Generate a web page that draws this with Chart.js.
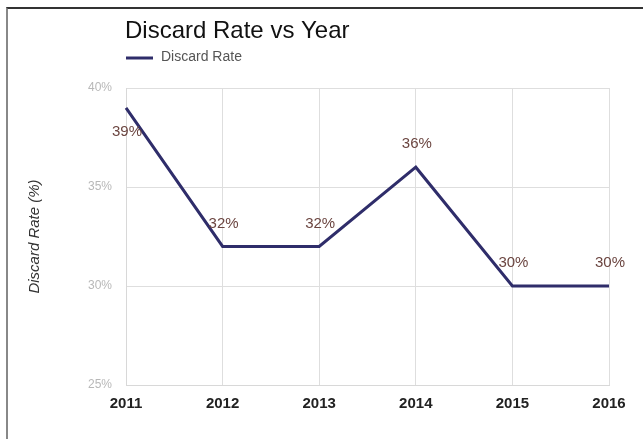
<!DOCTYPE html>
<html><head><meta charset="utf-8">
<script src="https://cdn.jsdelivr.net/npm/chart.js@4/dist/chart.umd.min.js"></script>
<style>
html,body{margin:0;padding:0;background:#fff;}
#wrap{position:relative;width:643px;height:439px;overflow:hidden;}
#frame{position:absolute;left:6px;top:7px;width:660px;height:460px;border-left:2px solid #888;border-top:2px solid #333;box-sizing:border-box;pointer-events:none;}
canvas{position:absolute;left:0;top:0;}
</style></head>
<body><div id="wrap"><canvas id="c" width="643" height="439"></canvas><div id="frame"></div></div>
<script>
const years = ['2011','2012','2013','2014','2015','2016'];
const discardRate = [39, 32, 32, 36, 30, 30];
const yTicks = [25, 30, 35, 40];
const chartTitle = 'Discard Rate vs Year';
const seriesName = 'Discard Rate';
const yAxisTitle = 'Discard Rate (%)';

const lineColor = '#2f2d6a';
const labelColor = '#6b4540';

const overlay = {
  id: 'overlay',
  afterDatasetsDraw(chart) {
    const ctx = chart.ctx;
    const x = chart.scales.x, y = chart.scales.y;
    ctx.save();
    // data labels
    ctx.font = '15px "Liberation Sans", Arial, sans-serif';
    ctx.fillStyle = labelColor;
    ctx.textAlign = 'center';
    ctx.textBaseline = 'middle';
    discardRate.forEach((v, i) => {
      const px = x.getPixelForValue(i);
      const py = y.getPixelForValue(v);
      if (i === 0) ctx.fillText(v + '%', px + 1, py + 24);
      else ctx.fillText(v + '%', px + 1, py - 23);
    });
    // title
    ctx.textAlign = 'left';
    ctx.textBaseline = 'alphabetic';
    ctx.fillStyle = '#111';
    ctx.font = '24px "Liberation Sans", Arial, sans-serif';
    ctx.fillText(chartTitle, 125, 38);
    // legend
    ctx.strokeStyle = lineColor;
    ctx.lineWidth = 3;
    ctx.beginPath();
    ctx.moveTo(126, 58); ctx.lineTo(153, 58); ctx.stroke();
    ctx.fillStyle = '#555';
    ctx.font = '14px "Liberation Sans", Arial, sans-serif';
    ctx.textBaseline = 'middle';
    ctx.fillText(seriesName, 161, 57);
    ctx.restore();
  }
};

new Chart(document.getElementById('c'), {
  type: 'line',
  data: {
    labels: years,
    datasets: [{
      label: seriesName,
      data: discardRate,
      borderColor: lineColor,
      borderWidth: 3,
      pointRadius: 0,
      tension: 0,
      fill: false
    }]
  },
  options: {
    responsive: false,
    animation: false,
    devicePixelRatio: 1,
    layout: { padding: { left: 26, right: 34, top: 88, bottom: 0 } },
    plugins: { legend: { display: false }, title: { display: false }, tooltip: { enabled: false } },
    scales: {
      x: {
        offset: false,
        grid: { color: '#dedede', lineWidth: 1, drawTicks: false },
        border: { color: '#d8d8d8' },
        ticks: { color: '#222', padding: 10, maxRotation: 0, autoSkip: false,
          font: { family: '"Liberation Sans", Arial, sans-serif', size: 15, weight: 'bold' } },
        afterFit(s) { s.height = 54; }
      },
      y: {
        min: 25, max: 40,
        afterBuildTicks(s) { s.ticks = yTicks.map(v => ({ value: v })); },
        grid: { color: '#dedede', lineWidth: 1, drawTicks: false },
        border: { color: '#d8d8d8' },
        ticks: { color: '#b8b8b8', padding: 14, callback: v => v + '%',
          font: { family: '"Liberation Sans", Arial, sans-serif', size: 12 } },
        title: { display: true, text: yAxisTitle, color: '#333', padding: 0,
          font: { family: '"Liberation Sans", Arial, sans-serif', size: 15, style: 'italic' } },
        afterFit(s) { s.width = 100; }
      }
    }
  },
  plugins: [overlay]
});
</script>
</body></html>
